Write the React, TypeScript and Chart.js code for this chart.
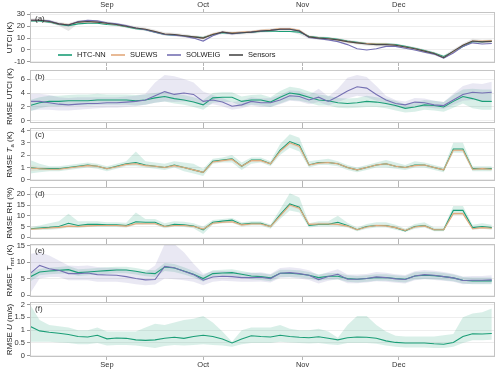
import React, { useEffect, useRef } from 'react';
import { Chart, registerables } from 'chart.js';
Chart.register(...registerables);

// x: days since 8 Aug (Sep 1 = 24, Oct 1 = 54, Nov 1 = 85, Dec 1 = 115)
const DAYS = [0,3,6,9,12,15,18,21,24,27,30,33,36,39,42,45,48,51,54,57,60,63,66,69,72,75,78,81,84,87,90,93,96,99,102,105,108,111,114,117,120,123,126,129,132,135,138,141,144];
const MONTH_TICKS = [24, 54, 85, 115];
const MONTH_LABELS = ['Sep', 'Oct', 'Nov', 'Dec'];

// (a) UTCI
const A_SENSORS = [25,25,24,22,21,23.5,24,23.5,22.5,21.5,20,18.5,17.5,15.5,13.5,13,12,11,10,13,15,14,14.5,15,16,16.5,17.5,17.5,16,11,10,9.5,8.5,7,6,5,4.5,4.5,4,2.5,1,-1,-3,-6.5,-1,4,7.5,6.8,7.2];
const A_SENS_LO = [23.5,23.5,22.5,20.5,16,22,22.5,22,21,20,18.5,17,16,14,12,11.5,10.5,9.5,8.5,11.5,13.5,12.5,13,13.5,14.5,15,16,15.5,13,9.5,8.5,8,7,5.5,4.5,3.5,3,3,2.5,1,-0.5,-2.5,-4.5,-7.5,-2.5,2.5,6.5,5.5,6];
const A_SENS_HI = [26.5,26.5,25.5,23.5,22.5,25,25.5,25,24,23,21.5,20,19,17,15,14.5,13.5,12.5,11.5,14.5,16.5,15.5,16,16.5,17.5,18,19,19,17.5,12.5,11.5,11,10,8.5,7.5,6.5,6,6,5.5,4,2.5,0.5,-1.5,-4.5,0.5,5.5,9.5,8.5,9];
const A_HTC = [24.5,24.5,23.5,21.5,20.5,22,22.5,22.5,21.5,21,19.5,18,17,15,13,12.5,12,11,10.5,13,14.5,14,14.5,15,15.5,16,15.5,15.5,15,11.5,10.5,10,9,7.5,6.5,5.5,5,5,4.5,3,1.5,-0.5,-2.5,-5.5,-1.5,3,7,7,7.5];
const A_SUEWS = [25,25,24,22,21.5,23.5,24,23.5,22.5,21.5,20,18.5,17.5,15.5,13.5,13,12,11,10,13.5,15,14.5,15,15.5,16.5,17,18,18,16.5,11,10,9.5,8.5,7,6,5.5,5,5,4,2.5,1,-1,-3,-6.5,-1.5,4,7.5,7.5,8];
const A_SOLWEIG = [25,25,24.5,22,21,24,25,24.5,23,22,20.5,18.5,17,15,13,12.5,11.5,10,7.5,12,15,13.5,14.5,15,16,16.5,17.5,17.5,16,10.5,9.5,8.5,7,4.5,1,0,1,3,3,1.5,0,-2,-3.5,-7,-2.5,3,6,5,5.5];

// (b) RMSE UTCI
const B_HTC = [2.2,2.6,2.8,2.8,2.9,2.9,2.9,3.0,3.0,3.0,3.0,2.9,3.0,3.3,3.5,3.2,3.0,2.7,2.3,3.3,3.4,3.4,2.8,3.0,3.0,2.7,3.4,4.0,3.8,3.4,3.0,2.9,2.6,2.5,2.6,2.8,2.7,2.5,2.2,1.8,2.0,2.3,2.2,2.0,2.8,3.5,3.2,2.8,2.8];
const B_HTC_LO = [1.4,1.8,2.1,2.1,2.2,2.2,2.2,2.3,2.3,2.3,2.3,2.2,2.3,2.6,2.8,2.5,2.3,2.0,1.6,2.6,2.7,2.7,2.1,2.3,2.2,2.0,2.5,3.0,2.9,2.6,2.2,2.2,1.9,1.8,1.9,2.0,2.0,1.8,1.5,1.2,1.3,1.6,1.5,1.3,1.9,2.5,1.8,1.6,1.6];
const B_HTC_HI = [3.0,3.4,3.6,3.6,3.7,3.8,3.8,3.9,3.8,3.8,3.8,3.7,3.8,4.0,4.2,3.9,3.7,3.4,3.0,4.0,4.1,4.1,3.5,3.7,3.8,3.4,4.3,4.9,4.7,4.2,3.8,3.6,3.3,3.2,3.3,3.6,3.4,3.2,2.9,2.4,2.7,3.0,2.9,2.7,3.7,4.5,4.6,4.5,4.5];
const B_SOL = [2.8,2.8,2.6,2.4,2.3,2.4,2.5,2.5,2.6,2.6,2.7,2.8,3.0,3.6,4.2,3.8,4.0,3.8,2.8,3.0,2.7,2.1,2.3,2.8,2.6,2.6,3.0,3.6,3.5,3.0,3.4,2.8,3.5,4.3,4.9,4.7,3.8,3.0,2.5,2.3,2.7,2.6,2.3,2.2,3.0,3.8,4.1,4.0,4.1];
const B_SOL_LO = [1.5,1.6,1.6,1.5,1.5,1.6,1.7,1.8,1.9,1.9,2.0,2.1,2.3,2.6,2.8,2.7,2.8,2.7,2.2,2.4,2.1,1.6,1.8,2.2,2.0,2.0,2.4,2.9,2.8,2.4,2.7,2.2,2.7,3.2,3.6,3.4,2.9,2.4,2.0,1.8,2.1,2.0,1.8,1.7,2.3,2.9,3.0,2.9,3.0];
const B_SOL_HI = [3.9,3.9,3.7,3.4,3.3,3.4,3.4,3.4,3.4,3.4,3.5,3.6,3.9,5.5,6.6,6.4,6.0,5.5,4.2,3.7,3.3,2.7,2.9,3.4,3.2,3.3,3.7,4.4,4.3,3.7,4.6,3.5,4.6,6.2,6.6,6.3,5.0,3.6,3.0,2.8,3.3,3.2,2.9,2.7,3.9,5.0,5.4,5.3,5.6];

// (c) RMSE Ta
const C_HTC = [1.0,0.9,0.9,0.9,1.0,1.1,1.2,1.1,0.9,1.1,1.3,1.4,1.2,1.1,1.0,1.2,1.0,0.8,0.6,1.5,1.6,1.7,1.1,1.6,1.6,1.3,2.4,3.1,2.8,1.2,1.4,1.4,1.3,1.0,0.8,1.0,1.2,1.3,1.1,1.0,1.2,1.2,1.0,0.8,2.5,2.5,0.9,0.9,0.9];
const C_HTC_LO = [0.5,0.6,0.7,0.7,0.8,0.9,1.0,0.9,0.7,0.9,1.1,1.1,1.0,0.9,0.8,1.0,0.7,0.5,0.3,1.3,1.4,1.4,0.8,1.3,1.4,1.1,2.0,2.6,2.3,1.0,1.2,1.2,1.1,0.8,0.6,0.8,1.0,1.0,0.9,0.8,1.0,1.0,0.8,0.6,2.2,2.2,0.7,0.7,0.7];
const C_HTC_HI = [1.6,1.3,1.1,1.1,1.2,1.3,1.4,1.3,1.1,1.3,1.5,2.3,1.5,1.4,1.3,1.5,1.4,1.3,0.9,1.7,1.8,2.0,1.4,1.8,1.8,1.5,2.9,3.7,3.4,1.5,1.6,1.7,1.5,1.2,1.0,1.2,1.4,1.6,1.4,1.2,1.5,1.4,1.2,1.0,3.0,3.0,1.1,1.1,1.1];
const C_SUE = [0.95,0.9,0.85,0.85,0.95,1.05,1.15,1.1,0.9,1.05,1.25,1.3,1.15,1.1,1.0,1.15,1.0,0.8,0.6,1.45,1.55,1.65,1.1,1.55,1.55,1.3,2.3,3.0,2.7,1.2,1.35,1.4,1.3,1.0,0.8,1.0,1.2,1.3,1.1,1.0,1.15,1.2,1.0,0.8,2.4,2.4,0.85,0.9,0.85];
const C_SUE_LO = [0.7,0.75,0.75,0.75,0.85,0.95,1.05,1.0,0.8,0.95,1.15,1.2,1.05,1.0,0.9,1.05,0.9,0.7,0.5,1.35,1.45,1.55,1.0,1.45,1.45,1.2,2.2,2.85,2.55,1.1,1.25,1.3,1.2,0.9,0.7,0.9,1.1,1.2,1.0,0.9,1.05,1.1,0.9,0.7,2.3,2.3,0.75,0.8,0.75];
const C_SUE_HI = [1.2,1.05,0.95,0.95,1.05,1.15,1.3,1.2,1.0,1.15,1.35,1.4,1.25,1.2,1.1,1.25,1.1,0.9,0.7,1.55,1.65,1.75,1.2,1.65,1.65,1.4,2.4,3.15,2.85,1.3,1.45,1.5,1.4,1.1,0.9,1.1,1.3,1.4,1.2,1.1,1.25,1.3,1.1,0.9,2.5,2.5,0.95,1.0,0.95];

// (d) RMSE RH
const D_HTC = [4.0,4.3,4.6,5.0,6.5,5.5,6.0,6.0,5.8,5.8,5.5,7.2,7.0,7.0,5.0,6.0,5.8,5.2,3.5,7.0,7.5,8.0,6.0,6.5,6.5,5.0,10.5,15.5,14,5.5,6.0,6.0,7.0,5.5,3.5,5.0,5.5,5.5,4.5,3.0,5.0,5.5,3.5,3.5,12.5,12.5,4.5,5.0,4.5];
const D_HTC_LO = [3.5,3.5,3.5,3.8,4.5,4.3,4.8,4.8,4.8,4.8,4.5,5.8,6.0,6.0,4.2,5.0,4.8,4.2,1.5,6.0,6.5,6.8,5.0,5.5,5.5,4.0,8.5,12.5,11.5,4.5,5.0,5.0,5.0,4.5,2.8,4.0,4.5,4.5,3.5,2.5,4.0,4.5,2.8,2.8,10.5,10.5,3.5,4.0,3.5];
const D_HTC_HI = [4.8,5.5,6.5,7.5,11.0,7.5,7.5,7.5,7.0,7.0,6.8,11.5,8.5,8.5,6.5,7.5,7.2,6.5,5.0,8.0,8.5,9.0,7.0,7.5,7.5,6.0,13,20.5,18.5,6.5,7.5,7.5,10.0,6.8,4.5,6.2,7.0,7.0,5.8,4.0,6.2,7.0,4.5,4.5,14.5,14.5,5.8,6.5,5.8];
const D_SUE = [3.8,4.0,4.3,4.6,5.2,5.0,5.3,5.5,5.5,5.5,5.2,6.3,6.3,6.3,5.0,5.5,5.5,5.0,3.8,6.5,7.0,7.2,5.8,6.2,6.2,5.0,10.0,15.0,13.5,6.0,6.2,6.2,6.0,5.2,3.5,4.8,5.5,5.3,4.5,3.2,4.8,5.3,3.5,3.5,11.0,11.0,4.0,4.5,4.2];
const D_SUE_LO = [3.4,3.6,3.9,4.1,4.7,4.5,4.8,5.0,5.0,5.0,4.7,5.8,5.8,5.8,4.5,5.0,5.0,4.5,3.3,6.0,6.5,6.7,5.3,5.7,5.7,4.5,9.3,14.2,12.8,5.5,5.7,5.7,5.5,4.7,3.0,4.3,5.0,4.8,4.0,2.7,4.3,4.8,3.0,3.0,10.3,10.3,3.5,4.0,3.7];
const D_SUE_HI = [4.4,4.7,5.0,5.3,5.9,5.7,6.0,6.2,6.2,6.2,5.9,7.0,7.0,7.0,5.7,6.2,6.2,5.7,4.5,7.2,7.7,7.9,6.5,6.9,6.9,5.7,10.8,15.8,14.3,6.7,6.9,6.9,6.7,5.9,4.2,5.5,6.2,6.0,5.2,3.9,5.5,6.0,4.2,4.2,11.8,11.8,4.7,5.2,4.9];

// (e) RMSE Tmrt
const E_HTC = [5.5,7.0,7.3,7.5,7.7,6.8,7.0,7.2,7.4,7.6,7.6,7.2,6.7,6.5,8.5,8.2,7.3,6.3,5.0,6.5,6.7,6.8,6.3,5.8,5.6,5.2,6.6,6.6,6.4,6.0,5.3,5.7,5.7,5.0,4.8,5.0,5.3,5.3,5.0,4.8,5.8,6.0,5.9,5.6,5.2,4.5,4.3,4.3,4.3];
const E_HTC_LO = [4.0,6.0,6.3,6.5,6.6,5.8,6.0,6.2,6.4,6.6,6.6,6.2,5.7,5.5,7.3,7.0,6.2,5.3,4.0,5.5,5.7,5.8,5.3,4.8,4.6,4.2,5.5,5.5,5.3,5.0,4.3,4.7,4.7,4.0,3.8,4.0,4.3,4.3,4.0,3.8,4.7,4.9,4.8,4.5,4.2,3.5,3.3,3.3,3.3];
const E_HTC_HI = [7.0,8.0,8.3,8.5,8.8,7.8,8.0,8.2,8.4,8.6,8.6,8.2,7.7,7.5,9.7,9.4,8.4,7.3,6.0,7.5,7.7,7.8,7.3,6.8,6.6,6.2,7.7,7.7,7.5,7.0,6.3,6.7,6.7,6.0,5.8,6.0,6.3,6.3,6.0,5.8,6.9,7.1,7.0,6.7,6.2,5.5,5.3,5.3,5.3];
const E_SOL = [6.5,9.0,8.0,7.5,6.5,6.5,6.7,6.2,6.1,6.0,5.6,5.0,4.6,4.7,8.7,8.3,7.2,6.2,4.5,5.5,5.7,5.6,5.3,5.3,5.4,5.0,6.6,6.8,6.5,6.0,4.7,5.6,6.3,4.8,4.8,5.0,5.5,5.3,4.9,4.7,5.8,6.2,6.0,5.6,5.2,4.4,4.5,4.5,4.6];
const E_SOL_LO = [0.5,5.0,5.5,5.5,4.5,4.5,4.5,4.0,4.0,4.0,3.7,3.3,3.0,3.2,5.0,4.8,4.5,4.0,3.0,4.0,4.3,4.2,4.0,4.0,4.1,3.8,5.2,5.3,5.0,4.6,3.5,4.3,4.8,3.6,3.6,3.8,4.2,4.0,3.7,3.5,4.5,4.8,4.6,4.3,4.0,3.3,3.4,3.4,3.5];
const E_SOL_HI = [12.5,13.0,12.0,10.5,9.0,8.8,9.0,8.5,8.3,8.2,7.8,7.2,7.0,9.0,15.5,15.5,13.0,9.5,6.5,7.2,7.3,7.2,6.8,6.8,6.9,6.4,8.2,8.4,8.1,7.5,6.0,7.0,7.8,6.2,6.2,6.4,7.0,6.8,6.3,6.1,7.2,7.6,7.4,7.0,6.5,5.6,5.8,5.8,6.0];

// (f) RMSE U
const F_HTC = [1.15,0.97,0.92,0.88,0.83,0.75,0.73,0.8,0.66,0.69,0.68,0.62,0.6,0.62,0.68,0.72,0.68,0.75,0.8,0.75,0.65,0.5,0.65,0.78,0.75,0.73,0.8,0.75,0.72,0.7,0.74,0.68,0.62,0.7,0.73,0.72,0.68,0.58,0.52,0.5,0.5,0.5,0.47,0.45,0.52,0.75,0.86,0.85,0.87];
const F_HTC_LO = [0.55,0.55,0.55,0.52,0.5,0.45,0.45,0.5,0.4,0.42,0.42,0.4,0.35,0.3,0.38,0.42,0.4,0.42,0.45,0.42,0.4,0.35,0.45,0.5,0.5,0.5,0.55,0.52,0.5,0.48,0.5,0.45,0.42,0.5,0.5,0.5,0.47,0.4,0.35,0.32,0.32,0.32,0.3,0.3,0.35,0.5,0.6,0.6,0.62];
const F_HTC_HI = [2.0,1.4,1.2,1.15,1.1,1.0,1.0,1.1,0.95,0.95,0.95,0.95,1.1,1.25,1.2,1.3,1.4,1.45,1.55,1.3,0.95,0.55,1.0,1.1,1.1,1.1,1.2,1.05,1.0,1.0,1.05,0.95,0.7,1.2,1.55,1.55,1.2,0.95,0.78,0.75,0.75,0.75,0.75,0.8,0.85,1.5,1.65,1.7,1.85];

const GREEN = '#1b9e77';
const ORANGE = '#e2a97c';
const PURPLE = '#7570b3';
const GREY = '#4a4a4a';
const GREEN_BAND = 'rgba(27,158,119,0.17)';
const ORANGE_BAND = 'rgba(226,169,124,0.16)';
const PURPLE_BAND = 'rgba(117,112,179,0.16)';
const GREY_BAND = 'rgba(140,140,140,0.22)';
const FONT = '"Liberation Sans", Arial, sans-serif';
const TICK_SIZE = 7.5;

type Seg = { t: string; i?: boolean; s?: boolean };
type LineDef = { label: string; data: number[]; color: string };
type BandDef = { lo: number[]; hi: number[]; color: string };
type PanelDef = {
  tag: string; top: number; bottom: number; min: number; max: number; yTicks: number[];
  title: Seg[]; lines: LineDef[]; bands: BandDef[]; topLabels: boolean; bottomLabels: boolean; legend: boolean;
};

const PANELS: PanelDef[] = [
  { tag: '(a)', top: 12, bottom: 63, min: -11, max: 32, yTicks: [-10, 0, 10, 20, 30],
    title: [{ t: 'UTCI (K)' }],
    lines: [
      { label: 'HTC-NN', data: A_HTC, color: GREEN },
      { label: 'SUEWS', data: A_SUEWS, color: ORANGE },
      { label: 'SOLWEIG', data: A_SOLWEIG, color: PURPLE },
      { label: 'Sensors', data: A_SENSORS, color: GREY },
    ],
    bands: [{ lo: A_SENS_LO, hi: A_SENS_HI, color: GREY_BAND }],
    topLabels: true, bottomLabels: false, legend: true },
  { tag: '(b)', top: 70, bottom: 123, min: -0.3, max: 7.3, yTicks: [0, 2, 4, 6],
    title: [{ t: 'RMSE UTCI (K)' }],
    lines: [
      { label: 'HTC-NN', data: B_HTC, color: GREEN },
      { label: 'SOLWEIG', data: B_SOL, color: PURPLE },
    ],
    bands: [
      { lo: B_SOL_LO, hi: B_SOL_HI, color: PURPLE_BAND },
      { lo: B_HTC_LO, hi: B_HTC_HI, color: GREEN_BAND },
    ],
    topLabels: false, bottomLabels: false, legend: false },
  { tag: '(c)', top: 128, bottom: 181, min: -0.1, max: 4.2, yTicks: [0, 1, 2, 3, 4],
    title: [{ t: 'RMSE ' }, { t: 'T', i: true }, { t: 'a', s: true }, { t: ' (K)' }],
    lines: [
      { label: 'HTC-NN', data: C_HTC, color: GREEN },
      { label: 'SUEWS', data: C_SUE, color: ORANGE },
    ],
    bands: [
      { lo: C_SUE_LO, hi: C_SUE_HI, color: ORANGE_BAND },
      { lo: C_HTC_LO, hi: C_HTC_HI, color: GREEN_BAND },
    ],
    topLabels: false, bottomLabels: false, legend: false },
  { tag: '(d)', top: 187, bottom: 239, min: -0.8, max: 23.4, yTicks: [0, 5, 10, 15, 20],
    title: [{ t: 'RMSE RH (%)' }],
    lines: [
      { label: 'HTC-NN', data: D_HTC, color: GREEN },
      { label: 'SUEWS', data: D_SUE, color: ORANGE },
    ],
    bands: [
      { lo: D_SUE_LO, hi: D_SUE_HI, color: ORANGE_BAND },
      { lo: D_HTC_LO, hi: D_HTC_HI, color: GREEN_BAND },
    ],
    topLabels: false, bottomLabels: false, legend: false },
  { tag: '(e)', top: 244, bottom: 297, min: -0.6, max: 15.5, yTicks: [0, 5, 10, 15],
    title: [{ t: 'RMSE ' }, { t: 'T', i: true }, { t: 'mrt', s: true }, { t: ' (K)' }],
    lines: [
      { label: 'HTC-NN', data: E_HTC, color: GREEN },
      { label: 'SOLWEIG', data: E_SOL, color: PURPLE },
    ],
    bands: [
      { lo: E_SOL_LO, hi: E_SOL_HI, color: PURPLE_BAND },
      { lo: E_HTC_LO, hi: E_HTC_HI, color: GREEN_BAND },
    ],
    topLabels: false, bottomLabels: false, legend: false },
  { tag: '(f)', top: 302, bottom: 357, min: -0.05, max: 2.1, yTicks: [0, 0.5, 1, 1.5, 2],
    title: [{ t: 'RMSE ' }, { t: 'U', i: true }, { t: ' (m/s)' }],
    lines: [{ label: 'HTC-NN', data: F_HTC, color: GREEN }],
    bands: [{ lo: F_HTC_LO, hi: F_HTC_HI, color: GREEN_BAND }],
    topLabels: false, bottomLabels: true, legend: false },
];

const LEGEND_X = [58, 111, 167, 229];

const decor = {
  id: 'decor',
  afterDatasetsDraw(chart: any) {
    const p: PanelDef = chart.options.plugins.decor.panel;
    const { ctx, chartArea: ca } = chart;
    ctx.save();
    ctx.strokeStyle = '#c4c4c4';
    ctx.lineWidth = 1;
    ctx.strokeRect(Math.round(ca.left) + 0.5, Math.round(ca.top) + 0.5, Math.round(ca.width) - 1, Math.round(ca.height) - 1);
    ctx.fillStyle = '#333';
    ctx.font = '8px ' + FONT;
    ctx.textAlign = 'left';
    ctx.textBaseline = 'top';
    ctx.fillText(p.tag, ca.left + 5, ca.top + 3);

    // y title
    ctx.save();
    ctx.translate(10, (ca.top + ca.bottom) / 2);
    ctx.rotate(-Math.PI / 2);
    ctx.textBaseline = 'middle';
    ctx.fillStyle = '#222';
    const fonts = p.title.map((s) => (s.i ? 'italic ' : '') + (s.s ? '6px ' : '8px ') + FONT);
    const widths = p.title.map((s, k) => { ctx.font = fonts[k]; return ctx.measureText(s.t).width; });
    let x = -widths.reduce((a, b) => a + b, 0) / 2;
    p.title.forEach((s, k) => {
      ctx.font = fonts[k];
      ctx.fillText(s.t, x, s.s ? 2.2 : 0);
      x += widths[k];
    });
    ctx.restore();

    if (p.legend) {
      const y = ca.bottom - 8;
      ctx.font = '7.5px ' + FONT;
      ctx.textBaseline = 'middle';
      chart.data.datasets.filter((d: any) => !d.label.startsWith('_')).forEach((d: any, k: number) => {
        const x0 = LEGEND_X[k];
        ctx.strokeStyle = d.borderColor;
        ctx.lineWidth = 1.6;
        ctx.beginPath();
        ctx.moveTo(x0, y);
        ctx.lineTo(x0 + 14, y);
        ctx.stroke();
        ctx.fillStyle = '#222';
        ctx.fillText(d.label, x0 + 19, y);
      });
    }
    ctx.restore();
  },
};

function buildConfig(p: PanelDef): any {
  const datasets: any[] = [];
  p.lines.forEach((l, k) => {
    datasets.push({
      label: l.label, data: DAYS.map((d, j) => ({ x: d, y: l.data[j] })),
      borderColor: l.color, backgroundColor: l.color, borderWidth: 1.1, pointRadius: 0, fill: false,
      order: p.lines.length - k,
    });
  });
  p.bands.forEach((b, k) => {
    const idx = datasets.length;
    datasets.push({ label: '_lo', data: DAYS.map((d, j) => ({ x: d, y: b.lo[j] })), borderWidth: 0, pointRadius: 0, fill: false, order: 50 + k });
    datasets.push({ label: '_hi', data: DAYS.map((d, j) => ({ x: d, y: b.hi[j] })), borderWidth: 0, pointRadius: 0, fill: idx, backgroundColor: b.color, order: 50 + k });
  });
  const topH = p.topLabels ? 12 : 3;
  const botH = p.bottomLabels ? 13 : 3;
  const monthTicks = (s: any) => { s.ticks = MONTH_TICKS.map((v) => ({ value: v })); };
  const xCommon = {
    type: 'linear', min: 0, max: 145,
    afterBuildTicks: monthTicks,
    grid: { drawOnChartArea: false, tickLength: 3, tickColor: '#b5b5b5' },
    border: { display: false },
  };
  return {
    type: 'line',
    data: { datasets },
    options: {
      responsive: false, animation: false, events: [],
      layout: { padding: { left: 0, right: 5, top: p.top - topH, bottom: 370 - p.bottom - botH } },
      elements: { line: { tension: 0 } },
      plugins: { legend: { display: false }, tooltip: { enabled: false }, decor: { panel: p } },
      scales: {
        x: {
          ...xCommon, position: 'bottom',
          ticks: { display: p.bottomLabels, autoSkip: false, maxRotation: 0, padding: 0, color: '#333', font: { family: FONT, size: TICK_SIZE },
            callback: (v: number) => MONTH_LABELS[MONTH_TICKS.indexOf(v)] ?? '' },
          afterFit: (s: any) => { s.height = botH; },
        },
        xTop: {
          ...xCommon, position: 'top', axis: 'x',
          ticks: { display: p.topLabels, autoSkip: false, maxRotation: 0, padding: 0, color: '#333', font: { family: FONT, size: TICK_SIZE },
            callback: (v: number) => MONTH_LABELS[MONTH_TICKS.indexOf(v)] ?? '' },
          afterFit: (s: any) => { s.height = topH; },
        },
        y: {
          min: p.min, max: p.max,
          afterBuildTicks: (s: any) => { s.ticks = p.yTicks.map((v) => ({ value: v })); },
          ticks: { color: '#333', padding: 2, font: { family: FONT, size: TICK_SIZE }, callback: (v: number) => String(v) },
          grid: { color: '#eeeeee', lineWidth: 1, tickLength: 3, tickColor: '#999' },
          border: { display: false },
          afterFit: (s: any) => { s.width = 30; },
        },
      },
    },
    plugins: [decor],
  };
}

export default function App() {
  const refs = useRef<(HTMLCanvasElement | null)[]>([]);
  useEffect(() => {
    const charts = PANELS.map((p, i) => new Chart(refs.current[i] as HTMLCanvasElement, buildConfig(p)));
    return () => charts.forEach((c) => c.destroy());
  }, []);
  return (
    <div style={{ position: 'fixed', left: 0, top: 0, width: 500, height: 370, background: '#fff' }}>
      {PANELS.map((p, i) => (
        <canvas key={p.tag} ref={(el) => { refs.current[i] = el; }} width={500} height={370}
          style={{ position: 'absolute', left: 0, top: 0 }} />
      ))}
    </div>
  );
}
